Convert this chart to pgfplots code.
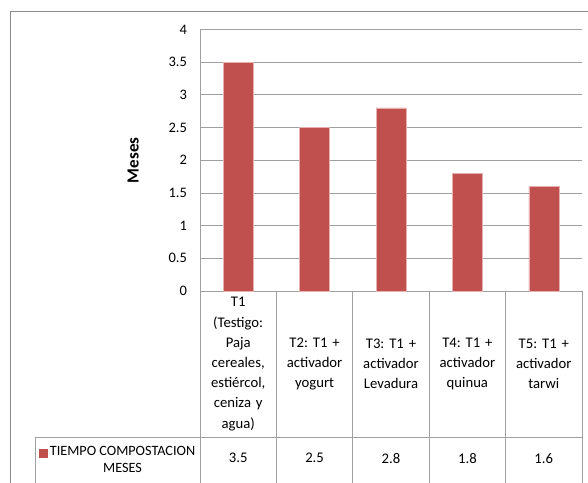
\documentclass[border=0pt]{standalone}
\usepackage{pgfplots}
\pgfplotsset{compat=1.18}
\usepackage{pgfplotstable}
\usepackage{fontspec}
\setmainfont{Carlito}

\definecolor{barred}{HTML}{C0504D}
\definecolor{baredge}{HTML}{E6B0AE}
\definecolor{gridgray}{HTML}{A0A0A0}
\definecolor{framegray}{HTML}{8C8C8C}

% tiempo de compostacion (meses)
\pgfplotstableread{
x y
0 3.5
1 2.5
2 2.8
3 1.8
4 1.6
}\tiempo

\begin{document}
\frenchspacing
\fontsize{14.7bp}{20bp}\selectfont
\begin{tikzpicture}
\clip (0,0) rectangle (588bp,483bp);
\useasboundingbox (0,0) rectangle (588bp,483bp);
\begin{axis}[
    at={(200bp,192bp)}, anchor=south west,
    scale only axis, width=382bp, height=261.5bp,
    xmin=-0.5, xmax=4.5, ymin=0, ymax=4,
    ytick distance=0.5,
    xtick={0,...,4},
    xticklabels={%
        {T1\\(Testigo:\\Paja\\cereales,\\estiércol,\\ceniza y\\agua)},
        {T2: T1 +\\activador\\yogurt},
        {T3: T1 +\\activador\\Levadura},
        {T4: T1 +\\activador\\quinua},
        {T5: T1 +\\activador\\tarwi}},
    xticklabel style={text width=74bp, align=center, anchor=center,
        yshift=-73bp, font=\fontsize{14.7bp}{20.2bp}\selectfont},
    major tick length=0pt,
    yticklabel style={xshift=-8bp, font=\fontsize{14.5bp}{17bp}\selectfont},
    /pgf/number format/assume math mode=true,
    axis x line*=bottom, axis y line*=left,
    axis line style={gridgray, line width=0.8pt},
    ymajorgrids, grid style={gridgray, line width=0.8pt},
    ylabel={\bfseries Meses},
    ylabel style={at={(axis description cs:-0.175,0.5)}, anchor=center,
        font=\fontsize{17bp}{20bp}\selectfont},
    clip=false,
    legend style={draw=none, fill=none, at={(axis description cs:-0.214,-0.648)},
        anchor=center, font=\fontsize{14.2bp}{17.5bp}\selectfont,
        cells={align=center}, inner sep=0pt},
    legend image code/.code={\fill[barred] (0bp,3bp) rectangle (8bp,11bp);},
]
% lineas de la tabla de datos
\pgfplotsinvokeforeach{-0.5,0.5,1.5,2.5,3.5,4.5}{
    \draw[gridgray, line width=0.8pt] (axis cs:#1,0) -- (axis cs:#1,-3.1);
}
\draw[gridgray, line width=0.8pt] (axis cs:-2.66,-3.1) |- (axis cs:4.5,-2.236);

\addplot[ybar, bar width=30bp, fill=barred, draw=baredge, line width=0.6pt]
    table[x=x, y=y] {\tiempo};
\addlegendentry{TIEMPO COMPOSTACION\\MESES}

% fila de valores
\addplot[draw=none, mark=none, forget plot, nodes near coords,
    point meta=\thisrow{y},
    every node near coord/.append style={anchor=center, text=black,
        font=\fontsize{14.7bp}{17bp}\selectfont,
        /pgf/number format/assume math mode=true}]
    table[x=x, y expr=-2.557] {\tiempo};
\end{axis}
\draw[framegray, line width=0.8pt] (10bp,-5bp) |- (600bp,472bp);
\end{tikzpicture}
\end{document}
